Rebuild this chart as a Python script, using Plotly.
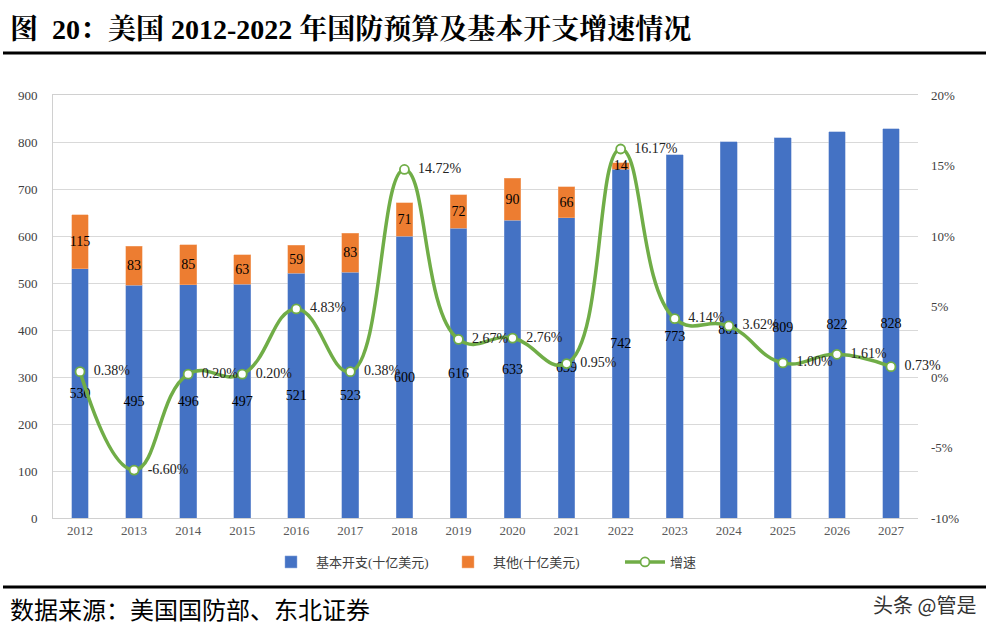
import plotly.graph_objects as go

years = ["2012", "2013", "2014", "2015", "2016", "2017", "2018", "2019",
         "2020", "2021", "2022", "2023", "2024", "2025", "2026", "2027"]
base = [530, 495, 496, 497, 521, 523, 600, 616, 633, 639, 742, 773, 801, 809, 822, 828]
other = [115, 83, 85, 63, 59, 83, 71, 72, 90, 66, 14, None, None, None, None, None]
growth = [0.38, -6.60, 0.20, 0.20, 4.83, 0.38, 14.72, 2.67, 2.76, 0.95, 16.17,
          4.14, 3.62, 1.00, 1.61, 0.73]
left_ticks = [0, 100, 200, 300, 400, 500, 600, 700, 800, 900]
right_ticks = [-10, -5, 0, 5, 10, 15, 20]
right_labels = ["-10%", "-5%", "0%", "5%", "10%", "15%", "20%"]

SERIF = "Liberation Serif, Noto Serif CJK SC, Noto Sans CJK SC, serif"
CJK = "Liberation Serif, Noto Sans CJK SC, sans-serif"

L, R, T, B = 53, 918, 95, 518
PW, PH = R - L, B - T


def px_y(y):
    return (B - y) / PH


def px_x(x):
    return (x - L) / PW


fig = go.Figure()
fig.add_trace(go.Bar(
    x=years, y=base, name="基本开支(十亿美元)",
    marker=dict(color="#4472C4", line=dict(color="#8FAADC", width=0.5)),
    text=[str(v) for v in base], textposition="inside", insidetextanchor="middle",
    constraintext="none", textangle=0,
    textfont=dict(family=SERIF, size=14, color="black"),
    width=0.31, hoverinfo="skip",
))
fig.add_trace(go.Bar(
    x=years, y=other, name="其他(十亿美元)",
    marker=dict(color="#ED7D31", line=dict(color="#F4B183", width=0.5)),
    text=[str(v) if v is not None else "" for v in other], textposition="inside",
    insidetextanchor="middle", constraintext="none", textangle=0,
    textfont=dict(family=SERIF, size=14, color="black"),
    width=0.31, hoverinfo="skip",
))
fig.add_trace(go.Scatter(
    x=years, y=growth, name="增速", yaxis="y2",
    mode="lines+markers+text", cliponaxis=False,
    line=dict(color="#70AD47", width=3.5, shape="spline", smoothing=1.3),
    marker=dict(size=9, color="white", line=dict(color="#70AD47", width=1.8)),
    text=["\u2002%.2f%%" % v for v in growth], textposition="middle right",
    textfont=dict(family=SERIF, size=14, color="#222222"),
    hoverinfo="skip",
))

fig.update_layout(
    width=989, height=636,
    barmode="stack",
    paper_bgcolor="white", plot_bgcolor="white",
    margin=dict(l=L, r=989 - R, t=T, b=636 - B, autoexpand=False),
    showlegend=True,
    legend=dict(orientation="h", x=px_x(266), xanchor="left", y=px_y(562), yanchor="middle",
                font=dict(family=CJK, size=13, color="#404040"),
                traceorder="normal", itemwidth=40, entrywidth=122),
    xaxis=dict(type="category", range=[-0.5, 15.5],
               tickfont=dict(family=SERIF, size=13, color="#595959"),
               showline=True, linecolor="#D0D0D0", mirror=True, ticks="",
               showgrid=False, automargin=False),
    yaxis=dict(range=[0, 900], tickvals=left_ticks, tickfont=dict(family=SERIF, size=13, color="#404040"),
               showgrid=True, gridcolor="#D9D9D9", gridwidth=1, showline=True,
               linecolor="#D0D0D0", zeroline=False, ticks="", ticklabelstandoff=12,
               automargin=False),
    yaxis2=dict(range=[-10, 20], tickvals=right_ticks, ticktext=right_labels, overlaying="y",
                side="right", showgrid=False, zeroline=False, showline=False,
                tickfont=dict(family=SERIF, size=13, color="#404040"), ticklabelstandoff=12,
                automargin=False),
    font=dict(family=CJK),
)

# title and footer
fig.add_annotation(xref="paper", yref="paper", x=px_x(8), xanchor="left",
                   y=px_y(30), yanchor="middle",
                   text="<b>图  20：美国 2012-2022 年国防预算及基本开支增速情况</b>",
                   showarrow=False, font=dict(family=SERIF, size=28, color="black"))
fig.add_annotation(xref="paper", yref="paper", x=px_x(8), xanchor="left",
                   y=px_y(611), yanchor="middle",
                   text="数据来源：美国国防部、东北证券",
                   showarrow=False, font=dict(family=CJK, size=24, color="black"))
fig.add_annotation(xref="paper", yref="paper", x=px_x(978), xanchor="right",
                   y=px_y(604), yanchor="middle",
                   text="头条 @管是",
                   showarrow=False, font=dict(family="Noto Sans CJK SC", size=20, color="#333333"))
fig.add_shape(type="line", xref="paper", yref="paper",
              x0=px_x(3), x1=px_x(986), y0=px_y(53), y1=px_y(53),
              line=dict(color="black", width=3))
fig.add_shape(type="line", xref="paper", yref="paper",
              x0=px_x(3), x1=px_x(986), y0=px_y(587), y1=px_y(587),
              line=dict(color="black", width=3))

fig.write_html("out.html", config={"displayModeBar": False},
               post_script="document.body.style.margin='0';document.body.style.overflow='hidden';")
